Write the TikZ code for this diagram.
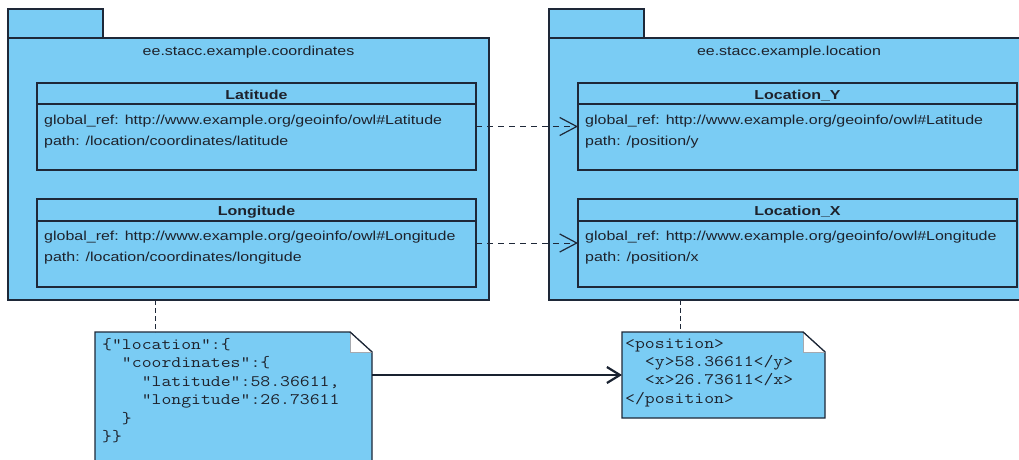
\documentclass[tikz,border=0pt]{standalone}
\usepackage{graphicx}
\usepackage{fontspec}
\setmainfont{Liberation Sans}
\usetikzlibrary{arrows.meta}
\definecolor{umlblue}{RGB}{122,204,244}
\definecolor{umlline}{RGB}{30,40,56}
\definecolor{umltext}{RGB}{30,34,44}
\newcommand{\wx}[1]{\scalebox{1.23}[1]{#1}}
\newcommand{\jx}[1]{\scalebox{1.2}[1]{#1}}
\begin{document}
\begin{tikzpicture}[x=1pt,y=-1pt,
  box/.style={draw=umlline, fill=umlblue, line width=1.2pt, inner sep=0pt, outer sep=0pt, anchor=north west},
  area/.style={inner sep=0pt, outer sep=0pt, anchor=north west},
  notebody/.style={draw=umlline, fill=umlblue, line width=1.2pt, line join=miter},
  fold/.style={fill=white, draw=umlline!40, line width=0.6pt},
  divider/.style={draw=umlline, line width=1.2pt},
  lbl/.style={text=umltext, font=\fontsize{13}{15}\selectfont, inner sep=0pt},
  hdr/.style={lbl, font=\fontsize{13}{15}\selectfont\bfseries, anchor=base},
  attr/.style={lbl, anchor=base west},
  code/.style={text=umltext, font=\ttfamily\fontsize{16}{18}\selectfont, inner sep=0pt, anchor=base west},
  dep/.style={draw=umlline, line width=1pt, dash pattern=on 6pt off 5pt, -{Straight Barb[length=17pt,width=18pt,line width=1.2pt]}},
  anchorline/.style={draw=umlline, line width=1pt, dash pattern=on 5pt off 3pt},
  flow/.style={draw=umlline!85!black, line width=2.4pt, -{Straight Barb[length=13pt,width=16pt,line width=2.2pt]}}
]
\useasboundingbox (0,0) rectangle (1019,460);
\clip (0,0) rectangle (1019,460);
\fill[white] (0,0) rectangle (1019,460);

% ---------- left package ----------
\node[box, minimum width=95pt, minimum height=29pt] (tabL) at (8,9) {};
\node[box, minimum width=481pt, minimum height=262pt] (pkgL) at (8,38) {};
\node[lbl, anchor=base] (pkgLname) at (248.5,55.5) {\wx{ee.stacc.example.coordinates}};

\node[box, minimum width=439pt, minimum height=87pt] (lat) at (37,83) {};
\draw[divider] ([yshift=-21pt]lat.north west) -- ([yshift=-21pt]lat.north east);
\node[hdr] (latname) at (256.5,99) {\wx{Latitude}};
\node[attr] (latref) at (44,124.5) {\wx{global\_ref: http://www.example.org/geoinfo/owl\#Latitude}};
\node[attr] (latpath) at (44,145.5) {\wx{path: /location/coordinates/latitude}};

\node[box, minimum width=439pt, minimum height=88pt] (lon) at (37,199) {};
\draw[divider] ([yshift=-22pt]lon.north west) -- ([yshift=-22pt]lon.north east);
\node[hdr] (lonname) at (256.5,215.5) {\wx{Longitude}};
\node[attr] (lonref) at (44,240.5) {\wx{global\_ref: http://www.example.org/geoinfo/owl\#Longitude}};
\node[attr] (lonpath) at (44,261.5) {\wx{path: /location/coordinates/longitude}};

% ---------- right package ----------
\node[box, minimum width=95pt, minimum height=29pt] (tabR) at (549,9) {};
\node[box, minimum width=481pt, minimum height=262pt] (pkgR) at (549,38) {};
\node[lbl, anchor=base] (pkgRname) at (789,55.5) {\wx{ee.stacc.example.location}};

\node[box, minimum width=439pt, minimum height=87pt] (locy) at (578,83) {};
\draw[divider] ([yshift=-21pt]locy.north west) -- ([yshift=-21pt]locy.north east);
\node[hdr] (locyname) at (797.5,99) {\wx{Location\_Y}};
\node[attr] (locyref) at (585,124.5) {\wx{global\_ref: http://www.example.org/geoinfo/owl\#Latitude}};
\node[attr] (locypath) at (585,145.5) {\wx{path: /position/y}};

\node[box, minimum width=439pt, minimum height=88pt] (locx) at (578,199) {};
\draw[divider] ([yshift=-22pt]locx.north west) -- ([yshift=-22pt]locx.north east);
\node[hdr] (locxname) at (797.5,215.5) {\wx{Location\_X}};
\node[attr] (locxref) at (585,240.5) {\wx{global\_ref: http://www.example.org/geoinfo/owl\#Longitude}};
\node[attr] (locxpath) at (585,261.5) {\wx{path: /position/x}};

% ---------- dependencies ----------
\draw[dep] (lat.east) -- (locy.west);
\draw[dep] (lon.east) -- (locx.west);

% ---------- JSON note ----------
\node[area, minimum width=277pt, minimum height=143pt] (jnote) at (95,332) {};
\draw[notebody] (jnote.north west) -- ([xshift=-22pt]jnote.north east) -- ([yshift=-20pt]jnote.north east) -- (jnote.south east) -- (jnote.south west) -- cycle;
\draw[fold] ([xshift=-22pt]jnote.north east) -- ([xshift=-22pt,yshift=-20pt]jnote.north east) -- ([yshift=-20pt]jnote.north east);
\draw[divider] ([xshift=-22pt]jnote.north east) -- ([yshift=-20pt]jnote.north east);
\node[code] (j1) at (102,349) {\jx{\{"location":\{}};
\node[code] (j2) at (102,367.5) {\jx{\hphantom{00}"coordinates":\{}};
\node[code] (j3) at (102,386) {\jx{\hphantom{0000}"latitude":58.36611,}};
\node[code] (j4) at (102,404.5) {\jx{\hphantom{0000}"longitude":26.73611}};
\node[code] (j5) at (102,423) {\jx{\hphantom{00}\}}};
\node[code] (j6) at (102,441.5) {\jx{\}\}}};

% ---------- XML note ----------
\node[area, minimum width=203pt, minimum height=86pt] (xnote) at (622,332) {};
\draw[notebody] (xnote.north west) -- ([xshift=-22pt]xnote.north east) -- ([yshift=-20pt]xnote.north east) -- (xnote.south east) -- (xnote.south west) -- cycle;
\draw[fold] ([xshift=-22pt]xnote.north east) -- ([xshift=-22pt,yshift=-20pt]xnote.north east) -- ([yshift=-20pt]xnote.north east);
\draw[divider] ([xshift=-22pt]xnote.north east) -- ([yshift=-20pt]xnote.north east);
\node[code] (x1) at (625,348.3) {\jx{<position>}};
\node[code] (x2) at (625,366.6) {\jx{\hphantom{00}<y>58.36611</y>}};
\node[code] (x3) at (625,384.9) {\jx{\hphantom{00}<x>26.73611</x>}};
\node[code] (x4) at (625,403.2) {\jx{</position>}};

% ---------- note anchors and flow ----------
\draw[anchorline] ([xshift=60pt]jnote.north west |- pkgL.south) -- ([xshift=60pt]jnote.north west);
\draw[anchorline] ([xshift=58pt]xnote.north west |- pkgR.south) -- ([xshift=58pt]xnote.north west);
\draw[flow] (jnote.east |- xnote.west) -- (xnote.west);
\end{tikzpicture}
\end{document}
